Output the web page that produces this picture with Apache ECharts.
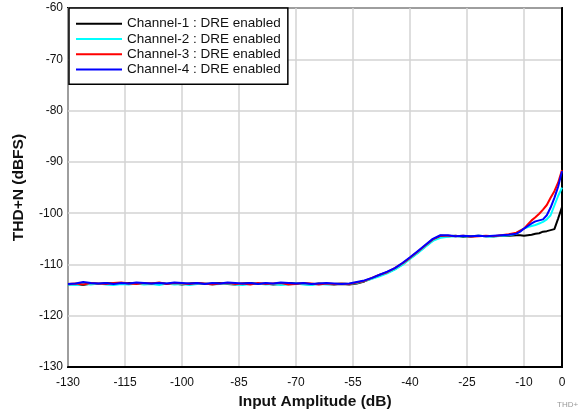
<!DOCTYPE html>
<html>
<head>
<meta charset="utf-8">
<script src="https://cdn.jsdelivr.net/npm/echarts@6/dist/echarts.min.js"></script>
<style>html,body{margin:0;padding:0;background:#fff;}#c{width:584px;height:415px;}</style>
</head>
<body>
<div id="c"></div>
<script>
var xs = [-130,-128,-126,-124,-122,-120,-118,-116,-114,-112,-110,-108,-106,-104,-102,-100,-98,-96,-94,-92,-90,-88,-86,-84,-82,-80,-78,-76,-74,-72,-70,-68,-66,-64,-62,-60,-58,-56,
  -54,-52,-50,-48,-46,-44,-42,-40,-38,-36,-34,-32,
  -30,-28,-26,-24,-22,-20,-18,-16,-14,-12,
  -11,-10,-9,-8,-7,-6,-5,-4,-3,-2,-1,0];

var ch1 = [-113.9,-113.8,-114.0,-113.7,-113.8,-113.6,-113.7,-113.8,-113.6,-113.7,
  -113.8,-113.7,-113.6,-113.8,-113.7,-113.9,-113.7,-113.6,-113.8,-113.7,
  -113.6,-113.8,-113.9,-113.7,-113.6,-113.8,-113.7,-113.9,-113.8,-113.6,
  -113.7,-113.8,-113.9,-113.7,-113.8,-113.9,-113.8,-113.9,
  -113.7,-113.3,-112.7,-112.1,-111.6,-110.9,-110.0,-108.8,-107.7,-106.5,-105.3,-104.4,
  -104.5,-104.4,-104.6,-104.5,-104.4,-104.5,-104.5,-104.4,-104.4,-104.3,
  -104.3,-104.4,-104.3,-104.2,-104.0,-103.9,-103.6,-103.5,-103.3,-103.1,-101.0,-98.8];

var ch2 = [-113.9,-114.0,-113.8,-113.9,-113.7,-113.9,-114.0,-113.8,-113.9,-113.7,
  -113.9,-113.8,-114.0,-113.7,-113.9,-113.8,-114.0,-113.8,-113.7,-113.9,
  -113.8,-113.7,-113.9,-114.0,-113.8,-113.7,-113.9,-113.8,-114.0,-113.9,
  -113.7,-113.9,-114.0,-113.8,-113.9,-113.8,-113.7,-113.8,
  -113.6,-113.2,-112.8,-112.3,-111.7,-111.0,-110.1,-108.9,-107.8,-106.6,-105.4,-104.8,
  -104.6,-104.5,-104.5,-104.6,-104.4,-104.5,-104.6,-104.4,-104.3,-104.0,
  -103.4,-103.0,-102.7,-102.5,-102.3,-102.0,-101.7,-101.2,-100.4,-98.5,-96.6,-95.0];

var ch3 = [-113.8,-113.7,-113.9,-113.6,-113.7,-113.8,-113.6,-113.5,-113.7,-113.8,
  -113.6,-113.7,-113.5,-113.8,-113.6,-113.7,-113.8,-113.6,-113.7,-113.9,
  -113.7,-113.6,-113.8,-113.7,-113.9,-113.6,-113.8,-113.7,-113.6,-113.9,
  -113.8,-113.6,-113.7,-113.9,-113.7,-113.8,-113.7,-113.8,
  -113.5,-113.2,-112.6,-112.0,-111.5,-110.7,-109.8,-108.7,-107.5,-106.3,-105.1,-104.4,
  -104.4,-104.5,-104.4,-104.6,-104.5,-104.4,-104.5,-104.3,-104.1,-103.8,
  -103.4,-103.0,-102.2,-101.4,-100.8,-100.1,-99.3,-98.4,-97.0,-95.7,-94.0,-91.6];

var ch4 = [-113.8,-113.7,-113.4,-113.6,-113.7,-113.6,-113.8,-113.6,-113.7,-113.5,
  -113.6,-113.7,-113.6,-113.7,-113.5,-113.6,-113.7,-113.6,-113.8,-113.6,
  -113.7,-113.5,-113.6,-113.7,-113.6,-113.8,-113.6,-113.7,-113.5,-113.6,
  -113.7,-113.6,-113.8,-113.7,-113.6,-113.7,-113.8,-113.7,
  -113.4,-113.1,-112.6,-112.0,-111.4,-110.7,-109.7,-108.6,-107.4,-106.2,-105.0,-104.3,
  -104.3,-104.5,-104.4,-104.5,-104.4,-104.5,-104.4,-104.3,-104.2,-104.0,
  -103.6,-103.0,-102.5,-102.0,-101.6,-101.4,-101.2,-100.4,-98.9,-97.0,-94.8,-91.8];

var names = ['Channel-1 : DRE enabled','Channel-2 : DRE enabled','Channel-3 : DRE enabled','Channel-4 : DRE enabled'];
var colors = ['#000000','#00ffff','#ff0000','#0000ff'];
var allY = [ch1, ch2, ch3, ch4];

function pairs(ys){ return xs.map(function(x,i){ return [x, ys[i]]; }); }

var font = 'Liberation Sans, Arial, Helvetica, sans-serif';
var chart = echarts.init(document.getElementById('c'), null, {renderer:'canvas'});
chart.setOption({
  animation: false,
  backgroundColor: '#fff',
  textStyle: {fontFamily: font},
  grid: {left: 68, top: 8, width: 494, height: 361, show: true, borderColor: '#000', borderWidth: 2, backgroundColor: 'transparent'},
  legend: {
    orient: 'vertical', left: 69, top: 8,
    backgroundColor: '#fff', borderColor: '#000', borderWidth: 1.5,
    padding: [8, 7, 7, 7],
    itemGap: 0, itemWidth: 46, itemHeight: 2, itemTextGap: 8,
    icon: 'rect',
    textStyle: {fontSize: 13.5, color: '#111', lineHeight: 15.3, fontFamily: font},
    data: names
  },
  xAxis: {
    type: 'value', min: -130, max: 0, interval: 15,
    name: 'Input Amplitude (dB)', nameLocation: 'middle', nameGap: 22,
    nameTextStyle: {fontSize: 15.5, fontWeight: 'bold', color: '#111', fontFamily: font},
    axisLine: {show: true, lineStyle: {color: '#000', width: 2}},
    axisTick: {show: false},
    axisLabel: {fontSize: 12, color: '#111', margin: 10, fontFamily: font},
    splitLine: {show: true, lineStyle: {color: '#d3d3d3', width: 1.5}}
  },
  yAxis: {
    type: 'value', min: -130, max: -60, interval: 10,
    name: 'THD+N (dBFS)', nameLocation: 'middle', nameGap: 41,
    nameTextStyle: {fontSize: 15.5, fontWeight: 'bold', color: '#111', fontFamily: font},
    axisLine: {show: true, lineStyle: {color: '#000', width: 2}},
    axisTick: {show: false},
    axisLabel: {fontSize: 12, color: '#111', margin: 5, fontFamily: font},
    splitLine: {show: true, lineStyle: {color: '#d3d3d3', width: 1.5}}
  },
  graphic: [{type: 'text', left: 557, top: 401, style: {text: 'THD+', fontSize: 8, fill: '#999', fontFamily: font}}],
  series: allY.map(function(ys, k){
    return {name: names[k], type: 'line', data: pairs(ys), showSymbol: false, symbol: 'none',
      lineStyle: {color: colors[k], width: 2}, itemStyle: {color: colors[k]}, z: 2 + k};
  })
});
</script>
</body>
</html>
